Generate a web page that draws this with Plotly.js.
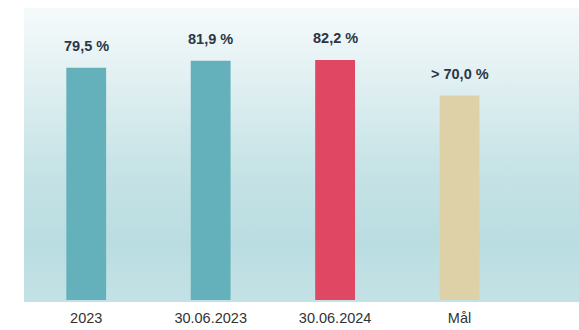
<!DOCTYPE html>
<html>
<head>
<meta charset="utf-8">
<script src="https://cdn.plot.ly/plotly-3.0.1.min.js"></script>
<style>html,body{margin:0;padding:0;background:#fff;}#chart{width:579px;height:330px;}</style>
</head>
<body>
<div id="chart"></div>
<script>
const categories = ["2023", "30.06.2023", "30.06.2024", "Mål"];
const values = [79.5, 81.9, 82.2, 70.0];
const labels = ["79,5 %", "81,9 %", "82,2 %", "> 70,0 %"];
const barColors = ["#64b1bc", "#64b1bc", "#df4762", "#ded0a7"];

const svg = '<svg xmlns="http://www.w3.org/2000/svg" width="100" height="100" preserveAspectRatio="none">' +
  '<defs><linearGradient id="g" x1="0" y1="0" x2="0" y2="1">' +
  '<stop offset="0" stop-color="#f6fafb"/>' +
  '<stop offset="0.55" stop-color="#c6e3e6"/>' +
  '<stop offset="0.8" stop-color="#badde1"/>' +
  '<stop offset="1" stop-color="#c4e2e6"/>' +
  '</linearGradient></defs><rect width="100" height="100" fill="url(#g)"/></svg>';
const bgSrc = 'data:image/svg+xml;base64,' + btoa(svg);

const trace = {
  type: 'bar',
  x: categories,
  y: values,
  marker: {color: barColors},
  width: 0.32,
  hoverinfo: 'none'
};

const annotations = categories.map((c, i) => ({
  x: i, y: values[i], text: labels[i], showarrow: false,
  yanchor: 'bottom', yshift: 12,
  font: {family: 'Liberation Sans, Arial, sans-serif', size: 14.5, color: '#2b3646', weight: 'bold'}
}));

const layout = {
  width: 579, height: 330,
  margin: {l: 24, r: 0, t: 8, b: 30},
  paper_bgcolor: '#ffffff',
  plot_bgcolor: 'rgba(0,0,0,0)',
  showlegend: false,
  xaxis: {
    type: 'category',
    range: [-0.5, 3.96],
    showgrid: false, zeroline: false, showline: false,
    ticks: '', ticklabelstandoff: 7,
    tickfont: {family: 'Liberation Sans, Arial, sans-serif', size: 14.5, color: '#333333'},
    fixedrange: true
  },
  yaxis: {
    range: [0, 100],
    showgrid: false, zeroline: false, showline: false,
    showticklabels: false, ticks: '',
    fixedrange: true
  },
  images: [{
    source: bgSrc, xref: 'paper', yref: 'paper',
    x: 0, y: 1, sizex: 1, sizey: 1.008, sizing: 'stretch',
    xanchor: 'left', yanchor: 'top', layer: 'below'
  }],
  annotations: annotations
};

Plotly.newPlot('chart', [trace], layout, {displayModeBar: false, staticPlot: true});
</script>
</body>
</html>
